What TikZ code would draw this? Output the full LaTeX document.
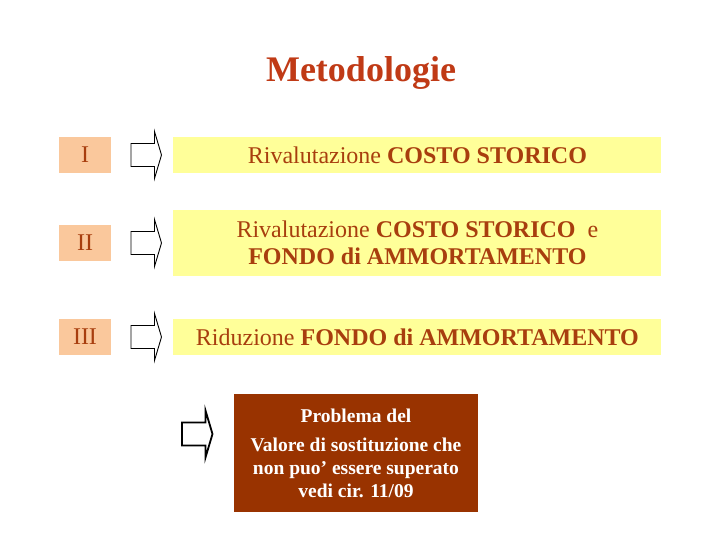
\documentclass[tikz,border=0pt]{standalone}
\usepackage{fontspec}
\setmainfont{Liberation Serif}
\usepackage{tikz}
\usetikzlibrary{positioning}

\definecolor{title_red}{RGB}{192,58,22}
\definecolor{text_brown}{RGB}{168,62,14}
\definecolor{peach}{RGB}{250,200,156}
\definecolor{pale_yellow}{RGB}{255,255,153}
\definecolor{rust}{RGB}{153,51,0}

\begin{document}
\begin{tikzpicture}[
    x=1pt, y=-1pt,
    node distance=62pt,
    title_style/.style={text=title_red, font=\fontsize{36}{40}\selectfont\bfseries, inner sep=0pt},
    label_style/.style={fill=peach, text=text_brown, minimum width=52pt, minimum height=36pt, inner sep=0pt, font=\fontsize{24}{27}\selectfont},
    box_style/.style={fill=pale_yellow, text=text_brown, minimum width=488pt, inner sep=0pt, align=center, font=\fontsize{24}{27}\selectfont},
    note_style/.style={fill=rust, text=white, minimum width=244pt, minimum height=118pt, inner sep=0pt, align=center, font=\fontsize{19.5}{23}\selectfont\bfseries},
    block_arrow/.pic={\draw[pic actions] (0,-11.5) -- (23.5,-11.5) -- (23.5,-23.5) -- (30.5,0) -- (23.5,23.5) -- (23.5,11.5) -- (0,11.5) -- cycle;}
]
\useasboundingbox (0,0) rectangle (720,540);

% Title
\node[title_style, anchor=base] (title) at (361,82) {Metodologie};

% Labels
\node[label_style] (L1) at (85,155) {I};
\node[label_style] (L2) at (85,243) {II};
\node[label_style] (L3) at (85,337) {III};

% Boxes
\node[box_style, minimum height=36pt, right=of L1] (B1) {Rivalutazione \textbf{COSTO STORICO}};
\node[box_style, minimum height=65pt, right=of L2] (B2) {Rivalutazione \textbf{COSTO STORICO} \ e\\\textbf{FONDO di AMMORTAMENTO}};
\node[box_style, minimum height=36pt, right=of L3] (B3) {Riduzione \textbf{FONDO di AMMORTAMENTO}};

% Arrows between labels and boxes
\pic[draw=black, line width=0.9pt] at (131,155) {block_arrow};
\pic[draw=black, line width=0.9pt] at (131,243) {block_arrow};
\pic[draw=black, line width=0.9pt] at (131,337) {block_arrow};

% Note
\node[note_style] (note) at (356,453) {Problema del\\[6pt]Valore di sostituzione che\\non puo' essere superato\\vedi cir. 11/09};
\pic[draw=black, line width=1.8pt] at (182,434) {block_arrow};

\end{tikzpicture}
\end{document}
